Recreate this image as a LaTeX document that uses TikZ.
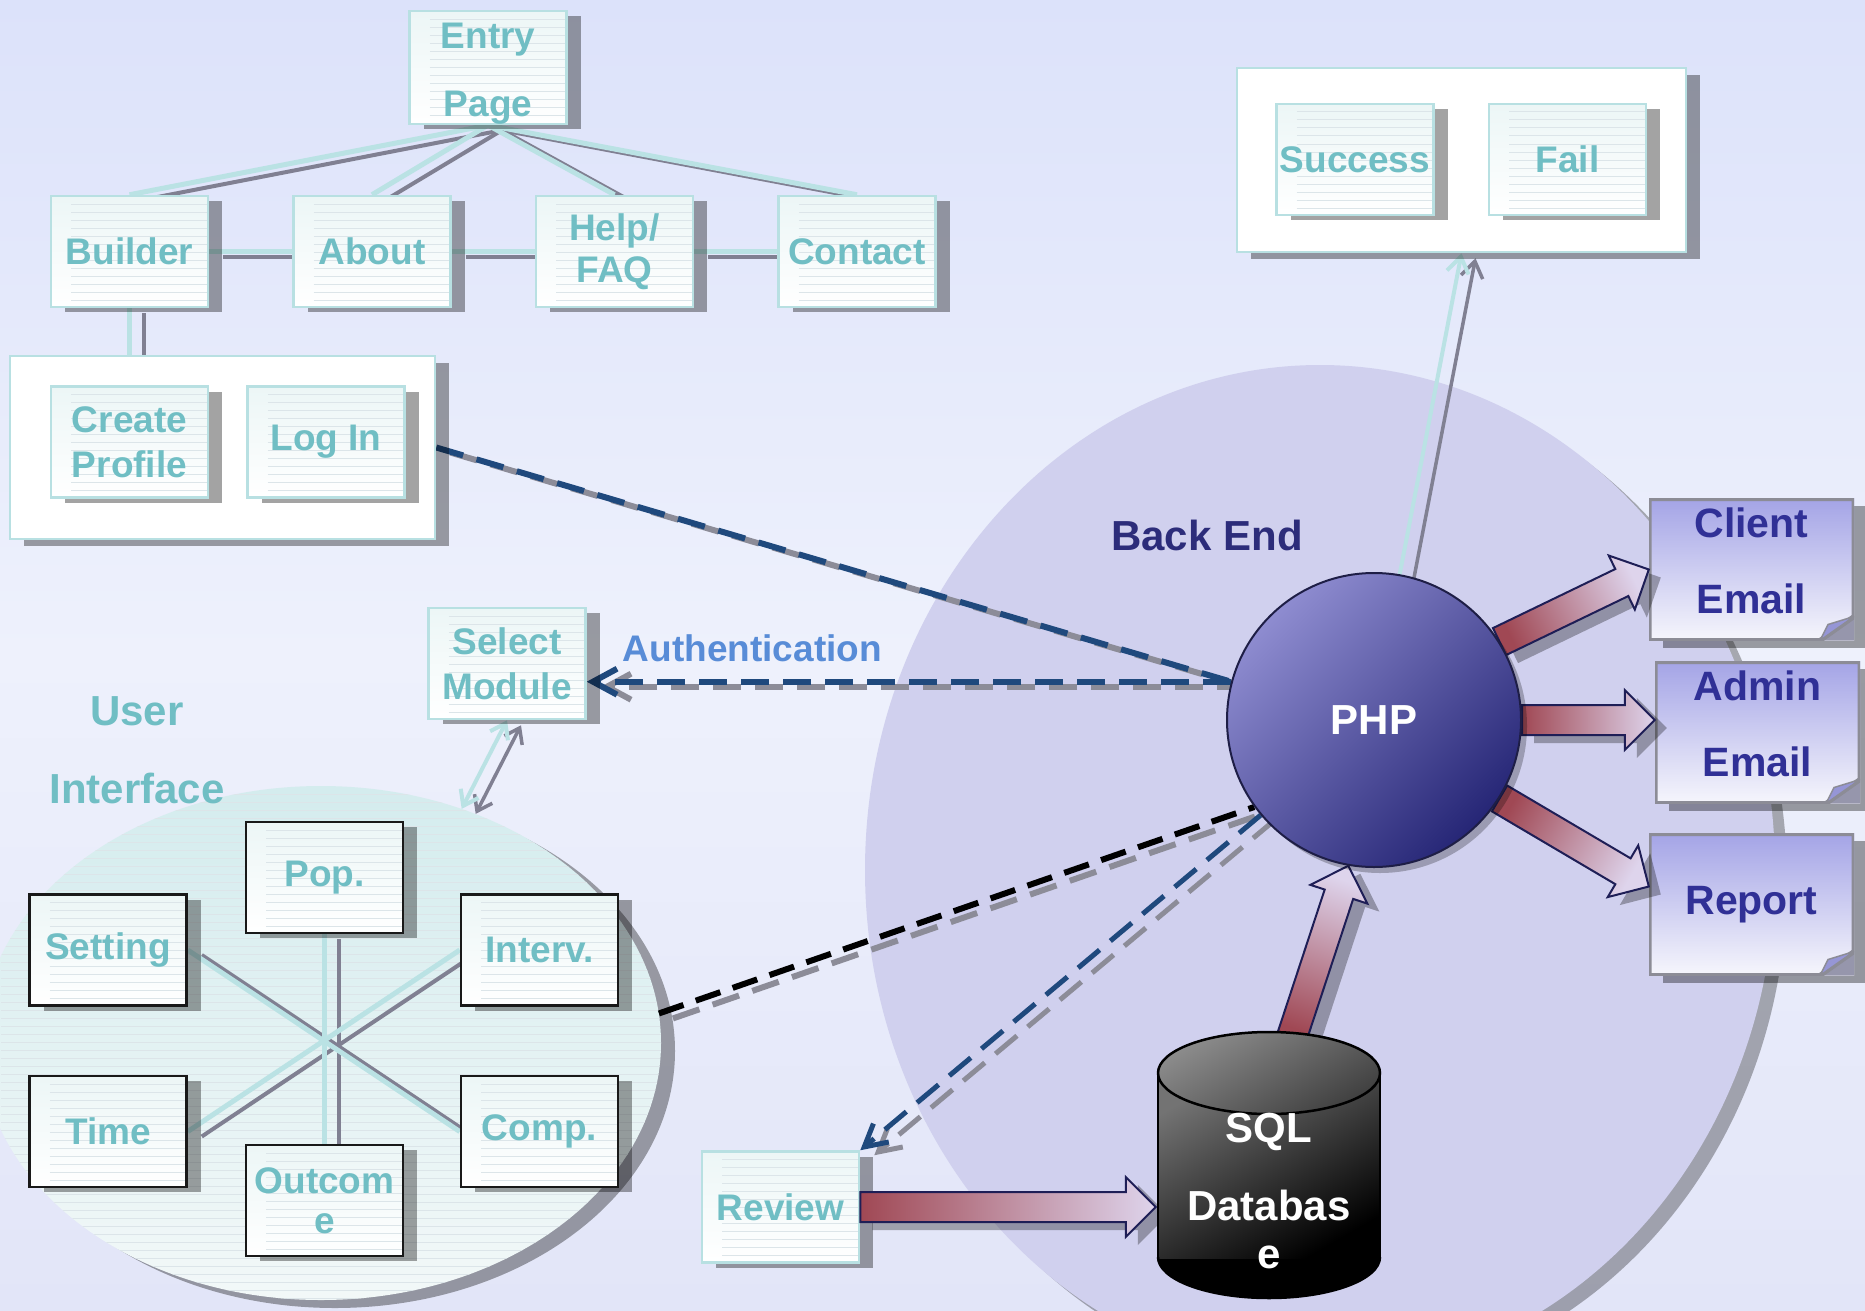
\documentclass[tikz,border=0pt]{standalone}
\usepackage{fontspec}
\setmainfont{Liberation Sans}
\usetikzlibrary{arrows.meta,positioning,shapes.geometric,calc,shadows}

\definecolor{bgTop}{RGB}{220,226,250}
\definecolor{bgMid}{RGB}{238,241,252}
\definecolor{bgBot}{RGB}{226,229,248}
\definecolor{tealText}{RGB}{112,190,196}
\definecolor{tealEdge}{RGB}{184,224,226}
\definecolor{tealLine}{RGB}{186,226,228}
\definecolor{greyLine}{RGB}{128,128,146}
\definecolor{ruleCol}{RGB}{220,229,233}
\definecolor{boxTop}{RGB}{236,246,246}
\definecolor{uiTop}{RGB}{212,236,238}
\definecolor{uiBot}{RGB}{242,248,248}
\definecolor{backFill}{RGB}{208,208,238}
\definecolor{navyText}{RGB}{44,44,122}
\definecolor{noteText}{RGB}{48,48,150}
\definecolor{noteTop}{RGB}{164,164,230}
\definecolor{noteBot}{RGB}{246,246,252}
\definecolor{noteEdge}{RGB}{140,140,150}
\definecolor{foldCol}{RGB}{150,150,214}
\definecolor{cornerCol}{RGB}{150,150,172}
\definecolor{authText}{RGB}{88,140,215}
\definecolor{navyDash}{RGB}{31,73,125}
\definecolor{greyDash}{RGB}{140,140,152}
\definecolor{phpLight}{RGB}{142,140,208}
\definecolor{phpDark}{RGB}{38,38,118}
\definecolor{phpEdge}{RGB}{30,30,70}
\definecolor{fatTail}{RGB}{160,72,84}
\definecolor{fatHead}{RGB}{222,212,236}
\definecolor{fatEdge}{RGB}{30,30,86}

\newcommand\boxtxt{\fontsize{37}{45}\selectfont\bfseries}
\newcommand\bigtxt{\fontsize{42}{48}\selectfont\bfseries}
\newcommand\notetxt{\fontsize{41}{46}\selectfont\bfseries}

\pgfdeclarelayer{back}
\pgfdeclarelayer{lines}
\pgfdeclarelayer{arrows}
\pgfdeclarelayer{front}
\pgfsetlayers{back,lines,main,arrows,front}

% thick shaded arrow: tail, tip, shading angle
\newcommand\fatarrow[3]{%
  \coordinate (neck) at ($#2!30pt!#1$);
  \fill[black,opacity=.3,transform canvas={xshift=12pt,yshift=-8pt}]
    ($#1!15pt!90:#2$) -- ($(neck)!15pt!90:#2$) -- ($(neck)!30pt!90:#2$) -- #2
    -- ($(neck)!30pt!-90:#2$) -- ($(neck)!15pt!-90:#2$) -- ($#1!15pt!-90:#2$) -- cycle;
  \shade[fatline,shading angle=#3]
    ($#1!15pt!90:#2$) -- ($(neck)!15pt!90:#2$) -- ($(neck)!30pt!90:#2$) -- #2
    -- ($(neck)!30pt!-90:#2$) -- ($(neck)!15pt!-90:#2$) -- ($#1!15pt!-90:#2$) -- cycle;
}

\begin{document}
\begin{tikzpicture}[x=1pt,y=-1pt,
    rules/.style={path picture={\foreach \k in {1,...,#1}
        \draw[ruleCol,line width=1pt]
          ([xshift=20pt,yshift={-\k*8pt}]path picture bounding box.north west)
          -- ([yshift={-\k*8pt}]path picture bounding box.north east);}},
    rules/.default=14,
    pagebox/.style={rectangle,draw=tealEdge,line width=2.5pt,top color=boxTop,
                bottom color=white,minimum width=157pt,minimum height=111pt,
                inner sep=0pt,align=center,text=tealText,font=\boxtxt,rules,
                drop shadow={shadow xshift=14pt,shadow yshift=-5pt,opacity=.36,fill=black}},
    uibox/.style={pagebox,draw=black!90},
    holder/.style={rectangle,draw=tealEdge,line width=2.5pt,fill=white,
                drop shadow={shadow xshift=14pt,shadow yshift=-7pt,opacity=.36,fill=black}},
    notebox/.style={rectangle,minimum width=205pt,minimum height=142pt,inner sep=0pt,
                top color=noteTop,bottom color=noteBot,align=center,text=noteText,
                font=\notetxt,
                drop shadow={shadow xshift=14pt,shadow yshift=-7pt,opacity=.36,fill=black},
                path picture={
                  \coordinate (pnw) at (path picture bounding box.north west);
                  \coordinate (pne) at (path picture bounding box.north east);
                  \coordinate (pse) at (path picture bounding box.south east);
                  \coordinate (psw) at (path picture bounding box.south west);
                  \coordinate (pcut) at ([xshift=-34pt]pse);
                  \coordinate (pcut2) at ([yshift=24pt]pse);
                  \fill[cornerCol] (pcut) -- (pse) -- (pcut2) -- cycle;
                  \draw[noteEdge,line width=5pt]
                    (pnw) -- (pne) -- (pcut2) -- (pcut) -- (psw) -- cycle;
                  \filldraw[fill=foldCol,draw=noteEdge,line width=1.5pt]
                    (pcut) -- ([shift={(-26pt,16pt)}]pse) -- (pcut2) -- cycle;}},
    phpball/.style={circle,minimum size=294pt,draw=phpEdge,line width=2pt,
                top color=phpLight,bottom color=phpDark,shading angle=45,
                text=white,font=\bigtxt,
                drop shadow={shadow xshift=6pt,shadow yshift=-6pt,opacity=.25,fill=black}},
    database/.style={rectangle,minimum width=226pt,minimum height=270pt,inner sep=0pt,
                align=center,text=white,font=\bigtxt,
                path picture={
                  \coordinate (pc) at (path picture bounding box.center);
                  \begin{scope}
                    \clip ([shift={(-115,92)}]pc) rectangle ([shift={(115,137)}]pc);
                    \fill[black] ([yshift=-92pt]pc) ellipse (111 and 41);
                  \end{scope}
                  \shade[top color=black!55,bottom color=black,shading angle=30]
                    ([shift={(-111,-92)}]pc) rectangle ([shift={(111,93)}]pc);
                  \draw[line width=2.5pt]
                    ([shift={(-111,-92)}]pc) -- ([shift={(-111,92)}]pc)
                    ([shift={(111,-92)}]pc) -- ([shift={(111,92)}]pc);
                  \begin{scope}
                    \clip ([shift={(-115,92)}]pc) rectangle ([shift={(115,137)}]pc);
                    \draw[line width=2.5pt] ([yshift=-92pt]pc) ellipse (111 and 41);
                  \end{scope}
                  \shade[top color=black!45,bottom color=black!75,shading angle=30,
                         draw=black,line width=2.5pt] ([yshift=92pt]pc) ellipse (111 and 41);}},
    backzone/.style={ellipse,minimum width=910pt,minimum height=1010pt,fill=backFill,
                drop shadow={shadow xshift=12pt,shadow yshift=-10pt,opacity=.3,fill=black}},
    uizone/.style={ellipse,minimum width=680pt,minimum height=514pt,
                top color=uiTop,bottom color=uiBot,rules=70,
                drop shadow={shadow xshift=14pt,shadow yshift=-8pt,opacity=.35,fill=black}},
    tealline/.style={line width=5pt,draw=tealLine},
    greyline/.style={line width=4pt,draw=greyLine,
                transform canvas={xshift=14pt,yshift=-5pt}},
    navydash/.style={line width=6pt,draw=navyDash,dash pattern=on 28pt off 14pt},
    greydash/.style={navydash,draw=greyDash,
                transform canvas={xshift=14pt,yshift=-5pt}},
    blackdash/.style={navydash,draw=black,dash pattern=on 26pt off 13pt},
    fatline/.style={draw=fatEdge,line width=2pt,top color=fatHead,bottom color=fatTail}
  ]
  \useasboundingbox (0,0) rectangle (1865,1311);

  \begin{pgfonlayer}{back}
    \shade[top color=bgTop,bottom color=bgBot,middle color=bgMid]
      (0,0) rectangle (1865,1311);
    \node[backzone] (backend) at (1320,870) {};
    \node[uizone] (ui) at (321,1043) {};
  \end{pgfonlayer}

  % front end pages
  \node[pagebox] (entry) at (488,67.5) {\rule{0pt}{37pt}Entry\\[23pt]Page};
  \node[pagebox] (builder) at (129.5,251.5) {Builder};
  \node[pagebox,right=83pt of builder] (about) {About};
  \node[pagebox,right=83pt of about] (help) {Help/\\[-3pt]FAQ};
  \node[pagebox,right=83pt of help] (contact) {Contact};

  \node[holder,minimum width=425pt,minimum height=183pt] (logbox) at (222.5,447.5) {};
  \node[pagebox] (create) at (129.5,442) {Create\\Profile};
  \node[pagebox,right=37pt of create] (login) {Log In};

  \node[holder,minimum width=449pt,minimum height=184pt] (resultbox) at (1461.5,160) {};
  \node[pagebox] (success) at (1355,159.5) {Success};
  \node[pagebox,right=53pt of success] (fail) {Fail};

  \node[pagebox] (select) at (507,663.5) {Select\\Module};
  \node[pagebox] (review) at (780.5,1207) {Review};

  % modules
  \node[uibox] (pop) at (324.5,877.5) {Pop.};
  \node[uibox] (setting) at (108,950) {Setting};
  \node[uibox,right=272pt of setting] (interv) {Interv.};
  \node[uibox,below=68pt of setting] (time) {Time};
  \node[uibox,below=68pt of interv] (comp) {Comp.};
  \node[uibox] (outcome) at (324.5,1200.5) {Outcom\\[-5pt]e};

  \node[font=\bigtxt,text=tealText,align=center] (uilabel) at (137,750)
    {User\\[30pt]Interface};
  \node[font=\bigtxt,text=navyText] (backlabel) at (1207,535) {Back End};

  % outputs
  \node[notebox] (client) at (1751.5,569.5) {Client\\[30pt]Email\rule[-18pt]{0pt}{18pt}};
  \node[notebox] (admin) at (1757.5,732.5) {Admin\\[30pt]Email\rule[-18pt]{0pt}{18pt}};
  \node[notebox] (report) at (1751.5,904.5) {Report};

  \begin{pgfonlayer}{front}
    \node[phpball] (php) at (1374,720) {PHP};
    \node[database] (sql) at (1269,1165) {\rule{0pt}{81pt}SQL\\[30pt]Databas\\e};
  \end{pgfonlayer}

  \begin{pgfonlayer}{lines}
    % site map links
    \foreach \n in {builder,about,help,contact}
      \draw[greyline] (entry.south) -- (\n.north);
    \foreach \a/\b in {builder/about,about/help,help/contact}
      \draw[greyline] (\a.east) -- (\b.west);
    \draw[greyline] (builder.south) -- (builder.south |- logbox.north);
    \foreach \n in {builder,about,help,contact}
      \draw[tealline] (entry.south) -- (\n.north);
    \foreach \a/\b in {builder/about,about/help,help/contact}
      \draw[tealline] (\a.east) -- (\b.west);
    \draw[tealline] (builder.south) -- (builder.south |- logbox.north);
    % module links
    \foreach \a/\b in {setting.east/comp.west,interv.west/time.east,pop.south/outcome.north}
      \draw[greyline] (\a) -- (\b);
    \foreach \a/\b in {setting.east/comp.west,interv.west/time.east,pop.south/outcome.north}
      \draw[tealline] (\a) -- (\b);
    \draw[greyline,line width=3.5pt,-{Straight Barb[length=16pt,width=22pt]}]
      (php.80) -- (resultbox.south);
    \draw[tealline,line width=4pt,-{Straight Barb[length=16pt,width=22pt]}]
      (php.80) -- (resultbox.south);
    \draw[greyline,line width=3.5pt,
          {Straight Barb[length=14pt,width=20pt]}-{Straight Barb[length=14pt,width=20pt]}]
      (select.south) -- (ui.59);
    \draw[tealline,line width=4pt,
          {Straight Barb[length=14pt,width=20pt]}-{Straight Barb[length=14pt,width=20pt]}]
      (select.south) -- (ui.59);
    % dashed links
    \draw[greydash] (logbox.east) -- (php.165);
    \draw[navydash] (logbox.east) -- (php.165);
    \coordinate (authtip) at (select.east |- php.165);
    \draw[greydash,-{Straight Barb[length=24pt,width=26pt]}] (php.165) -- (authtip);
    \draw[navydash,-{Straight Barb[length=24pt,width=26pt]}] (php.165)
      -- node[pos=.743,yshift=33pt,text=authText,font=\boxtxt] (authlabel) {Authentication}
      (authtip);
    \draw[greydash] (ui.5) -- (php.216);
    \draw[blackdash] (ui.5) -- (php.216);
    \draw[greydash,line width=5pt,-{Straight Barb[length=22pt,width=24pt]}]
      (php.220) -- (review.north east);
    \draw[navydash,line width=5pt,-{Straight Barb[length=22pt,width=24pt]}]
      (php.220) -- (review.north east);
  \end{pgfonlayer}

  \begin{pgfonlayer}{arrows}
    \coordinate (admintip) at (admin.west |- php.east);
    \coordinate (reporttip) at ([yshift=18pt]report.west);
    \coordinate (sqltail) at ([shift={(22pt,-10pt)}]sql.north);
    \coordinate (sqltip) at (sql.west |- review.east);
    \fatarrow{(php.32)}{(client.west)}{-64}
    \fatarrow{(php.east)}{(admintip)}{-90}
    \fatarrow{(php.328)}{(reporttip)}{-120}
    \fatarrow{(sqltail)}{(php.260)}{-19}
    \fatarrow{(review.east)}{(sqltip)}{-90}
  \end{pgfonlayer}
\end{tikzpicture}
\end{document}
